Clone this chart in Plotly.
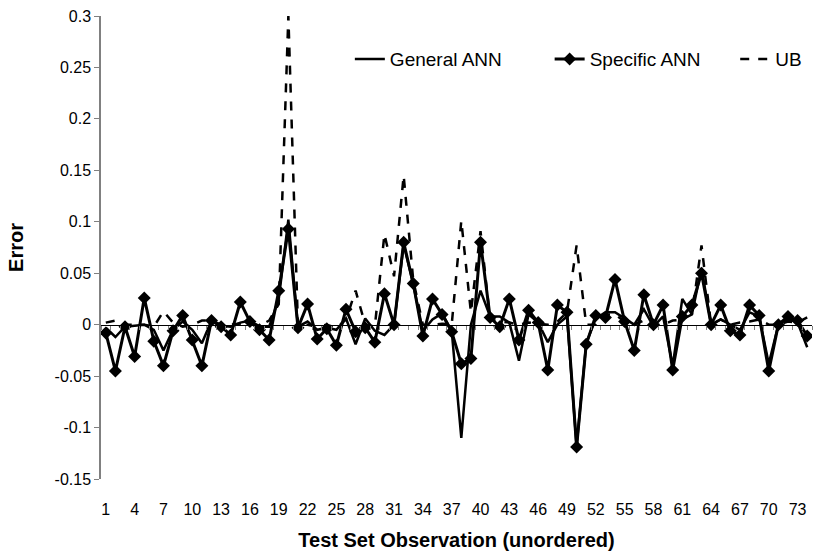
import plotly.graph_objects as go

observations = list(range(1, 75))
tick_labels = [str(i) for i in range(1, 75, 3)]

general_ann = [-0.003, -0.012, -0.002, -0.001, 0.000, -0.005, -0.025, -0.005, 0.003, -0.005,
               -0.018, 0.004, -0.001, -0.002, 0.002, 0.004, -0.002, -0.002, 0.025, 0.102,
               -0.002, 0.003, -0.005, -0.003, -0.005, 0.006, -0.019, 0.006, -0.006, -0.010,
               0.000, 0.078, 0.039, -0.006, 0.005, 0.011, -0.006, -0.110, 0.000, 0.033,
               0.008, 0.008, 0.002, -0.035, 0.010, 0.002, -0.017, 0.000, 0.008, -0.118,
               -0.018, 0.006, 0.012, 0.012, 0.006, 0.000, 0.015, -0.002, 0.008, -0.040,
               0.025, 0.010, 0.055, 0.000, 0.005, 0.000, -0.005, 0.012, 0.008, -0.038,
               0.000, 0.006, 0.002, -0.022]

specific_ann = [-0.008, -0.045, -0.002, -0.031, 0.026, -0.016, -0.040, -0.006, 0.009, -0.015,
                -0.040, 0.004, -0.002, -0.010, 0.022, 0.003, -0.005, -0.015, 0.033, 0.093,
                -0.003, 0.020, -0.014, -0.004, -0.020, 0.015, -0.007, -0.003, -0.017, 0.030,
                0.000, 0.080, 0.040, -0.011, 0.025, 0.010, -0.007, -0.038, -0.033, 0.080,
                0.007, -0.002, 0.025, -0.015, 0.014, 0.002, -0.044, 0.019, 0.012, -0.119,
                -0.019, 0.009, 0.007, 0.044, 0.003, -0.025, 0.029, 0.000, 0.019, -0.044,
                0.008, 0.019, 0.050, 0.000, 0.019, -0.006, -0.010, 0.019, 0.009, -0.045,
                0.000, 0.008, 0.004, -0.011]

ub = [0.002, 0.004, 0.000, 0.000, 0.000, -0.002, 0.013, 0.002, -0.002, 0.000,
      0.004, 0.004, 0.000, 0.000, 0.001, 0.002, -0.001, 0.004, 0.020, 0.300,
      -0.002, 0.000, -0.002, 0.000, -0.003, 0.005, 0.033, 0.000, -0.002, 0.088,
      0.047, 0.145, 0.043, 0.000, 0.000, 0.001, 0.000, 0.101, 0.012, 0.091,
      0.005, 0.003, 0.002, 0.000, 0.002, 0.001, 0.000, 0.003, 0.012, 0.077,
      0.000, 0.000, 0.010, 0.010, 0.003, 0.000, 0.004, 0.000, 0.000, 0.004,
      0.005, 0.010, 0.077, 0.000, 0.005, 0.000, 0.002, 0.003, 0.005, 0.000,
      0.000, 0.003, 0.002, 0.007]

y_ticks = [-0.15, -0.1, -0.05, 0, 0.05, 0.1, 0.15, 0.2, 0.25, 0.3]
y_tick_text = ["-0.15", "-0.1", "-0.05", "0", "0.05", "0.1", "0.15", "0.2", "0.25", "0.3"]

FONT = "Liberation Sans, Arial, sans-serif"

fig = go.Figure()
fig.add_trace(go.Scatter(x=observations, y=general_ann, name="General ANN", mode="lines",
                         line=dict(color="black", width=2.5), legend="legend"))
fig.add_trace(go.Scatter(x=observations, y=specific_ann, name="Specific ANN", mode="lines+markers",
                         line=dict(color="black", width=3),
                         marker=dict(symbol="diamond", size=10, color="black"), legend="legend2"))
fig.add_trace(go.Scatter(x=observations, y=ub, name="UB", mode="lines",
                         line=dict(color="black", width=2.5, dash="dash"), legend="legend3"))
# invisible trace carrying the zero-line category axis
fig.add_trace(go.Scatter(x=observations, y=[0] * len(observations), xaxis="x2", mode="lines",
                         line=dict(width=0), showlegend=False, hoverinfo="skip", opacity=0))

leg_common = dict(orientation="h", xanchor="left", y=0.907, yanchor="middle",
                  font=dict(size=19), bgcolor="rgba(0,0,0,0)")

fig.update_layout(
    width=814, height=553,
    margin=dict(l=101, r=2, t=16, b=74),
    paper_bgcolor="white", plot_bgcolor="white",
    font=dict(family=FONT, size=16, color="black"),
    showlegend=True,
    legend=dict(x=0.350, **leg_common),
    legend2=dict(x=0.631, **leg_common),
    legend3=dict(x=0.892, **leg_common),
    xaxis=dict(range=[0.5, 74.5], tickmode="array",
               tickvals=list(range(1, 75, 3)), ticktext=tick_labels,
               showline=False, showgrid=False, zeroline=False, ticks="",
               ticklabelstandoff=19,
               tickfont=dict(size=16),
               title=dict(text="<b>Test Set Observation (unordered)</b>", font=dict(size=20), standoff=15)),
    xaxis2=dict(range=[0.5, 74.5], overlaying="x", anchor="free", position=1/3,
                showline=True, linecolor="black", linewidth=1,
                tickmode="linear", tick0=0.5, dtick=1, ticks="outside", ticklen=4,
                tickcolor="#808080", tickwidth=1, showticklabels=False, showgrid=False, zeroline=False),
    yaxis=dict(range=[-0.15, 0.3], tickmode="array", tickvals=y_ticks, ticktext=y_tick_text,
               showline=True, linecolor="#808080", linewidth=1.5, ticks="outside", ticklen=5,
               tickcolor="#808080", showgrid=False, zeroline=False, tickfont=dict(size=16),
               title=dict(text="<b>Error</b>", font=dict(size=20), standoff=26)),
)

fig.write_html("out.html", config={"displayModeBar": False},
               post_script="document.body.style.margin='0px';")
